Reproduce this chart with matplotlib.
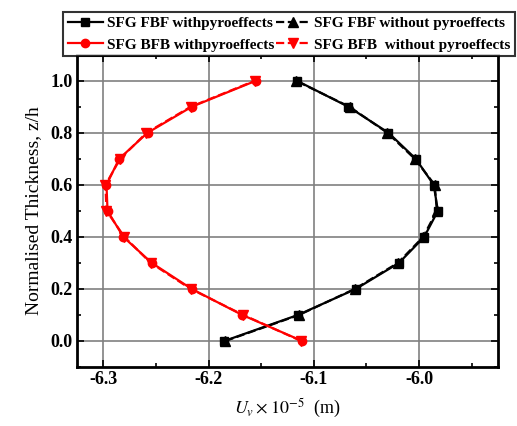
import matplotlib
matplotlib.use("Agg")
import matplotlib.pyplot as plt
from matplotlib.ticker import MultipleLocator, FormatStrFormatter

# --- data ---
z = [0.0, 0.1, 0.2, 0.3, 0.4, 0.5, 0.6, 0.7, 0.8, 0.9, 1.0]

fbf_with = [-6.185, -6.115, -6.060, -6.019, -5.995, -5.982, -5.986, -6.003, -6.029, -6.067, -6.116]
fbf_without = [-6.184, -6.114, -6.061, -6.020, -5.996, -5.983, -5.985, -6.004, -6.030, -6.066, -6.117]
bfb_with = [-6.111, -6.168, -6.216, -6.254, -6.281, -6.296, -6.297, -6.285, -6.258, -6.216, -6.155]
bfb_without = [-6.112, -6.167, -6.217, -6.255, -6.280, -6.297, -6.298, -6.284, -6.259, -6.217, -6.156]

labels = ["SFG FBF withpyroeffects", "SFG FBF without pyroeffects",
          "SFG BFB withpyroeffects", "SFG BFB  without pyroeffects"]

plt.rcParams['font.family'] = ['Liberation Serif', 'DejaVu Serif']
plt.rcParams['mathtext.fontset'] = 'stix'

fig = plt.figure(figsize=(5.17, 4.26), dpi=100)
ax = fig.add_axes([0.149, 0.1385, 0.814, 0.733])

h1, = ax.plot(fbf_with, z, '-s', color='black', lw=1.6, ms=5.5)
h2, = ax.plot(fbf_without, z, '--^', color='black', lw=1.6, ms=6.5)
h3, = ax.plot(bfb_with, z, '-o', color='red', lw=1.6, ms=6)
h4, = ax.plot(bfb_without, z, '--v', color='red', lw=1.6, ms=6.5)

ax.set_xlim(-6.325, -5.925)
ax.set_ylim(-0.1, 1.1)
ax.xaxis.set_major_locator(MultipleLocator(0.1))
ax.xaxis.set_minor_locator(MultipleLocator(0.05))
ax.yaxis.set_major_locator(MultipleLocator(0.2))
ax.yaxis.set_minor_locator(MultipleLocator(0.1))
ax.xaxis.set_major_formatter(FormatStrFormatter('%.1f'))
ax.yaxis.set_major_formatter(FormatStrFormatter('%.1f'))

ax.grid(True, which='major', color='#808080', lw=1.2)
ax.set_axisbelow(True)
ax.tick_params(which='both', direction='in', top=True, right=True, width=1.2)
ax.tick_params(which='major', length=5, labelsize=13, pad=3)
ax.tick_params(which='minor', length=3)
for lbl in ax.get_xticklabels() + ax.get_yticklabels():
    lbl.set_fontweight('bold')
for sp in ax.spines.values():
    sp.set_linewidth(2)

ax.set_xlabel(r"$U_v \times 10^{-5}$  (m)", fontsize=13, labelpad=6)
ax.set_ylabel("Normalised Thickness, z/h", fontsize=14, labelpad=6)

# ncol=2 fills column-wise, so order the handles accordingly
leg = fig.legend([h1, h3, h2, h4], [labels[0], labels[2], labels[1], labels[3]],
                 ncol=2, loc='lower left', bbox_to_anchor=(0.122, 0.868),
                 frameon=True, fancybox=False, edgecolor='black',
                 prop={'weight': 'bold', 'size': 11},
                 handlelength=2.3, handletextpad=0.25, columnspacing=0.1,
                 borderpad=0.3, labelspacing=0.5, borderaxespad=0)
leg.get_frame().set_linewidth(1.5)

plt.savefig("out.png", dpi=100)
